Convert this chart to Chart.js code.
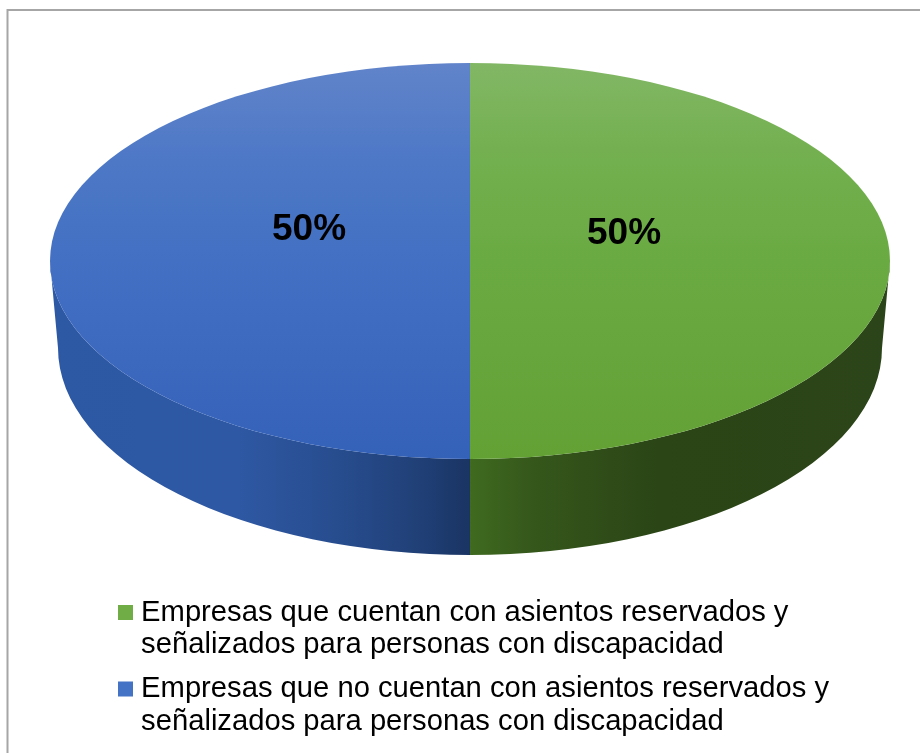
<!DOCTYPE html>
<html lang="es">
<head>
<meta charset="utf-8">
<title>Asientos reservados</title>
<script src="https://cdn.jsdelivr.net/npm/chart.js@4/dist/chart.umd.min.js"></script>
<style>
  html, body { margin: 0; padding: 0; background: #fff; }
  #wrap { position: relative; width: 920px; height: 753px; overflow: hidden; }
  canvas { display: block; }
</style>
</head>
<body>
<div id="wrap"><canvas id="pie" width="920" height="753"></canvas></div>
<script>
// Series
const categories = [
  ['Empresas que cuentan con asientos reservados y', 'señalizados para personas con discapacidad'],
  ['Empresas que no cuentan con asientos reservados y', 'señalizados para personas con discapacidad']
];
const values = [50, 50];

// Top face shading, light at the back edge and deeper toward the front
const faceStops = [
  [[0, '#82b765'], [0.25, '#72af4e'], [0.5, '#6aaa42'], [1, '#63a135']],
  [[0, '#6184ca'], [0.25, '#4d78c6'], [0.5, '#4370c3'], [1, '#3562b9']]
];
// Side wall shading, left to right across the visible rim
const wallStops = [
  [[0, '#3f6a1f'], [0.15, '#35571b'], [0.45, '#2b4516'], [1, '#2c4419']],
  [[0, '#2c58a4'], [0.45, '#2e58a3'], [0.7, '#274c8d'], [0.9, '#1f3e74'], [1, '#1a3463']]
];
const legendColors = ['#70ad47', '#4472c4'];

// Projection of the disc: top ellipse and the slightly narrower base ellipse
const disc = { cx: 470, cy: 261, rx: 420, ry: 198 };
const base = { cx: 470, cy: 348, rx: 412, ry: 207 };
const labelOffsets = [{ x: 154, y: -27 }, { x: -161, y: -31 }];
const frameColor = '#a6a6a6';

function faceGradient(chart, index) {
  const area = chart.chartArea;
  if (!area) return legendColors[index];
  const mid = (area.top + area.bottom) / 2;
  const r = Math.min(area.right - area.left, area.bottom - area.top) / 2;
  const g = chart.ctx.createLinearGradient(0, mid - r, 0, mid + r);
  faceStops[index].forEach(([p, c]) => g.addColorStop(p, c));
  return g;
}

const discPlugin = {
  id: 'disc3d',
  beforeDraw(chart) {
    // Frame runs along the top and left only
    const { ctx } = chart;
    ctx.save();
    ctx.strokeStyle = frameColor;
    ctx.lineWidth = 2;
    ctx.beginPath();
    ctx.moveTo(7.5, 753);
    ctx.lineTo(7.5, 10);
    ctx.lineTo(920, 10);
    ctx.stroke();
    ctx.restore();
  },
  afterLayout(chart) {
    // Legend sits below the disc, independent of the pie box
    const lg = chart.legend;
    const w = lg.right - lg.left, h = lg.bottom - lg.top;
    lg.left = 124.5 - lg.options.labels.padding;
    lg.right = lg.left + w;
    lg.top = 587;
    lg.bottom = lg.top + h;
  },
  beforeDatasetsDraw(chart) {
    const { ctx } = chart;
    const arcs = chart.getDatasetMeta(0).data;
    // Rim: the part of each slice that faces the viewer
    arcs.forEach((arc, i) => {
      const lo = Math.max(arc.startAngle, i === 0 ? 0 : Math.PI / 2);
      const hi = Math.min(arc.endAngle, i === 0 ? Math.PI / 2 : Math.PI);
      if (hi <= lo) return;
      const x0 = Math.min(disc.cx + disc.rx * Math.cos(lo), disc.cx + disc.rx * Math.cos(hi));
      const x1 = Math.max(disc.cx + disc.rx * Math.cos(lo), disc.cx + disc.rx * Math.cos(hi));
      const g = ctx.createLinearGradient(x0, 0, x1, 0);
      wallStops[i].forEach(([p, c]) => g.addColorStop(p, c));
      ctx.save();
      ctx.fillStyle = g;
      ctx.beginPath();
      ctx.ellipse(disc.cx, disc.cy, disc.rx, disc.ry, 0, lo, hi);
      ctx.ellipse(base.cx, base.cy, base.rx, base.ry, 0, hi, lo, true);
      ctx.closePath();
      ctx.fill();
      ctx.restore();
    });
    // Squash the round pie onto the top ellipse
    const a = arcs[0];
    ctx.save();
    ctx.translate(disc.cx, disc.cy);
    ctx.scale(disc.rx / a.outerRadius, disc.ry / a.outerRadius);
    ctx.translate(-a.x, -a.y);
  },
  afterDatasetsDraw(chart) {
    const { ctx } = chart;
    ctx.restore();
    ctx.save();
    ctx.font = 'bold 37px "Liberation Sans", Arial, sans-serif';
    ctx.fillStyle = '#000';
    ctx.textAlign = 'center';
    ctx.textBaseline = 'middle';
    const total = values.reduce((s, v) => s + v, 0);
    values.forEach((v, i) => {
      ctx.fillText(Math.round(v / total * 100) + '%',
        disc.cx + labelOffsets[i].x, disc.cy + labelOffsets[i].y);
    });
    ctx.restore();
  }
};

new Chart(document.getElementById('pie'), {
  type: 'pie',
  data: {
    labels: categories,
    datasets: [{
      data: values,
      borderWidth: 0,
      backgroundColor: (c) => faceGradient(c.chart, c.dataIndex)
    }]
  },
  plugins: [discPlugin],
  options: {
    responsive: false,
    animation: false,
    events: [],
    layout: { padding: 0 },
    plugins: {
      tooltip: { enabled: false },
      legend: {
        position: 'chartArea',
        align: 'start',
        labels: {
          usePointStyle: true,
          boxWidth: 2,
          boxHeight: 15,
          padding: 11,
          color: '#000',
          font: { family: '"Liberation Sans", Arial, sans-serif', size: 29.2, lineHeight: 1.12 },
          generateLabels: () => categories.map((text, i) => ({
            text, fillStyle: legendColors[i], strokeStyle: legendColors[i],
            lineWidth: 0, hidden: false, index: i, pointStyle: 'rect'
          }))
        }
      }
    }
  }
});
</script>
</body>
</html>
